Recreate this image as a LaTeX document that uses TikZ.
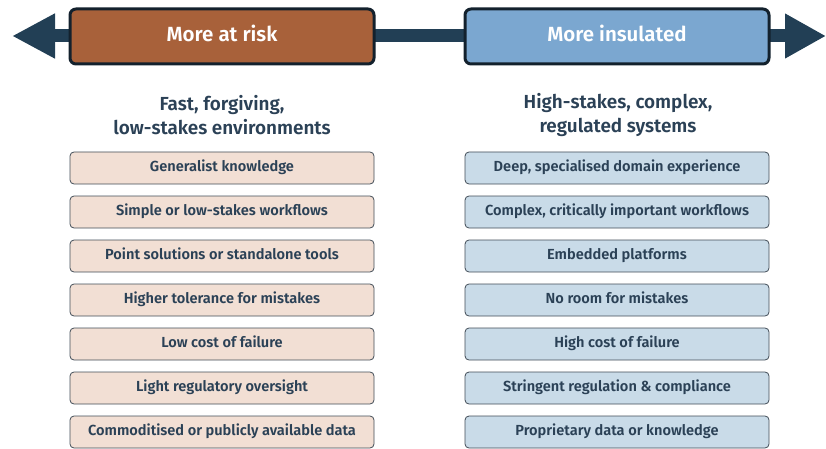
\documentclass[tikz,border=0pt]{standalone}
\usepackage{fontspec}
\setmainfont{Fira Sans}[BoldFont={Fira Sans SemiBold}]
\usepackage{xcolor}
\usepackage{tikz}
\definecolor{navytext}{HTML}{2B4156}
\definecolor{arrowslate}{HTML}{223F55}
\definecolor{edgedark}{HTML}{13212D}
\definecolor{rustfill}{HTML}{A8613A}
\definecolor{skyfill}{HTML}{7BA7D0}
\definecolor{peachfill}{HTML}{F2DFD4}
\definecolor{icefill}{HTML}{C9DBE8}
\usetikzlibrary{arrows.meta, positioning}

\begin{document}
\begin{tikzpicture}[
    x=1pt, y=1pt,
    node distance=11.2pt,
    every node/.style={font=\bfseries},
    headbox/.style={rectangle, draw=edgedark, line width=3pt, text=white,
                    minimum width=304pt, minimum height=55pt, align=center,
                    text height=14.5pt, text depth=4pt,
                    rounded corners=6pt, font=\fontsize{20.5}{24}\selectfont\bfseries},
    subtitle/.style={rectangle, draw=none, text=navytext, align=center,
                     font=\fontsize{18.9}{24}\selectfont\bfseries},
    riskbox/.style={rectangle, draw=edgedark!80, fill=peachfill, line width=0.8pt,
                    minimum width=304pt, minimum height=32pt, inner sep=0pt,
                    text height=10.5pt, text depth=3pt,
                    rounded corners=4pt, text=navytext,
                    font=\fontsize{14.6}{17}\selectfont\bfseries},
    safebox/.style={riskbox, fill=icefill}
]
    \useasboundingbox (0,0) rectangle (826,-449);

    % Arrow across the top
    \coordinate (lefttip) at (12,-36);
    \coordinate (righttip) at (826,-36);
    \draw[arrowslate, line width=13pt,
          {Triangle[length=43pt, width=42pt]}-{Triangle[length=41pt, width=42pt]}]
          (lefttip) -- (righttip);

    % Headers
    \node[headbox, fill=rustfill] (riskhead) at (222,-36.5) {More at risk};
    \node[headbox, fill=skyfill] (safehead) at (617,-36.5) {More insulated};

    % Subtitles
    \node[subtitle] (risksub) at (222,-115) {Fast, forgiving,\\low-stakes environments};
    \node[subtitle] (safesub) at (618,-115) {High-stakes, complex,\\regulated systems};

    % Left column
    \node[riskbox] (r1) at (222,-168) {Generalist knowledge};
    \node[riskbox, below=of r1] (r2) {Simple or low-stakes workflows};
    \node[riskbox, below=of r2] (r3) {Point solutions or standalone tools};
    \node[riskbox, below=of r3] (r4) {Higher tolerance for mistakes};
    \node[riskbox, below=of r4] (r5) {Low cost of failure};
    \node[riskbox, below=of r5] (r6) {Light regulatory oversight};
    \node[riskbox, below=of r6] (r7) {Commoditised or publicly available data};

    % Right column
    \node[safebox] (s1) at (617,-168) {Deep, specialised domain experience};
    \node[safebox, below=of s1] (s2) {Complex, critically important workflows};
    \node[safebox, below=of s2] (s3) {Embedded platforms};
    \node[safebox, below=of s3] (s4) {No room for mistakes};
    \node[safebox, below=of s4] (s5) {High cost of failure};
    \node[safebox, below=of s5] (s6) {Stringent regulation \& compliance};
    \node[safebox, below=of s6] (s7) {Proprietary data or knowledge};
\end{tikzpicture}
\end{document}
